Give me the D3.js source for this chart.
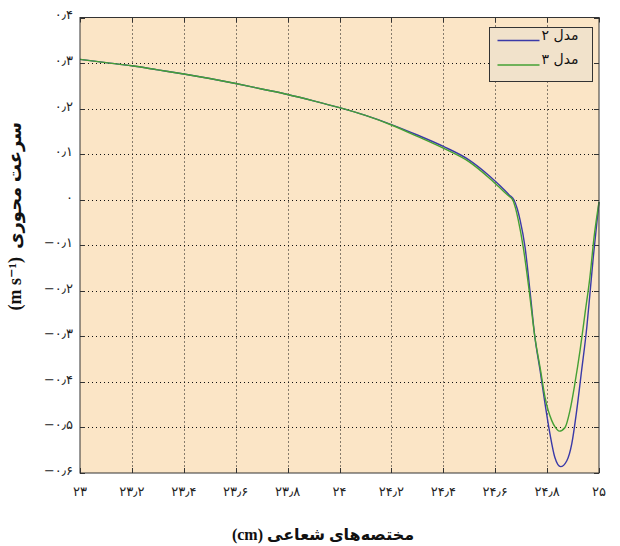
<!DOCTYPE html>
<html>
<head>
<meta charset="utf-8">
<script src="https://cdn.jsdelivr.net/npm/d3@7/dist/d3.min.js"></script>
<style>
	body { margin: 0; background: #fff; }
	svg { display: block; }
	.frame { fill: none; stroke: #333; stroke-width: 1; }
	.grid line { stroke: #111; stroke-width: 1; stroke-dasharray: 1,3; }
	.tick { stroke: #333; stroke-width: 1; }
	.ticklabel { font-family: "DejaVu Sans", sans-serif; font-size: 13px; fill: #222; }
	.title { font-family: "Liberation Serif", "DejaVu Sans", serif; font-weight: bold; font-size: 16px; fill: #111; }
	.ytitle { font-family: "Liberation Serif", "DejaVu Sans", serif; font-weight: bold; font-size: 18px; fill: #111; }
	.legendText { font-family: "DejaVu Sans", sans-serif; font-size: 14px; fill: #111; }
</style>
</head>
<body>
<svg id="chart" width="620" height="546"></svg>
<script>

// x ticks (radial position, cm) and y ticks (axial velocity)
var xTicks = [23, 23.2, 23.4, 23.6, 23.8, 24, 24.2, 24.4, 24.6, 24.8, 25];
var yTicks = [0.4, 0.3, 0.2, 0.1, 0, -0.1, -0.2, -0.3, -0.4, -0.5, -0.6];

// model 2 (blue)
var model2X = [23.0, 23.1, 23.2, 23.3, 23.4, 23.5, 23.6, 23.7, 23.8, 23.9, 24.0, 24.1, 24.2, 24.3, 24.4, 24.5, 24.58, 24.62, 24.655, 24.672, 24.685, 24.696, 24.715, 24.734, 24.753, 24.773, 24.792, 24.811, 24.83, 24.852, 24.876, 24.895, 24.914, 24.933, 24.953, 24.965, 24.978, 25.0];
var model2V = [0.308, 0.301, 0.294, 0.285, 0.276, 0.266, 0.255, 0.243, 0.231, 0.217, 0.202, 0.185, 0.165, 0.142, 0.117, 0.087, 0.051, 0.030, 0.010, 0.0, -0.02, -0.045, -0.104, -0.2, -0.302, -0.375, -0.448, -0.514, -0.566, -0.586, -0.573, -0.536, -0.463, -0.375, -0.28, -0.207, -0.126, -0.005];

// model 3 (green)
var model3X = [23.0, 23.1, 23.2, 23.3, 23.4, 23.5, 23.6, 23.7, 23.8, 23.9, 24.0, 24.1, 24.2, 24.3, 24.4, 24.5, 24.58, 24.62, 24.65, 24.667, 24.678, 24.689, 24.708, 24.731, 24.753, 24.775, 24.792, 24.818, 24.832, 24.847, 24.869, 24.888, 24.907, 24.927, 24.946, 24.965, 24.981, 25.0];
var model3V = [0.308, 0.301, 0.294, 0.285, 0.276, 0.266, 0.255, 0.243, 0.231, 0.217, 0.202, 0.185, 0.164, 0.139, 0.113, 0.083, 0.046, 0.025, 0.009, 0.0, -0.018, -0.045, -0.104, -0.2, -0.302, -0.375, -0.434, -0.485, -0.5, -0.508, -0.5, -0.463, -0.404, -0.331, -0.25, -0.17, -0.082, -0.005];

var seriesNames = ["مدل ۲", "مدل ۳"];
var seriesColors = ["#3a3aa8", "#45a034"];

var xTitle = "مختصه‌های شعاعی (cm)";
var yTitleFa = "سرعت محوری";
var yTitleUnit = "(m s⁻¹)";

var mLeft = 80, mRight = 599, mTop = 17.5, mBottom = 473;

var x = d3.scaleLinear().domain([23, 25]).range([mLeft, mRight]);
var y = d3.scaleLinear().domain([-0.6, 0.4]).range([mBottom, mTop]);

// persian digits with arabic decimal separator
function fa(v) {
	var s = d3.format("")(+v.toFixed(2));
	var digits = "۰۱۲۳۴۵۶۷۸۹";
	return s.replace(/\d/g, function (c) { return digits[+c]; })
		.replace(".", "٫")
		.replace("-", "−");
}

var svg = d3.select("#chart");

svg.append("rect")
	.attr("x", mLeft)
	.attr("y", mTop)
	.attr("width", mRight - mLeft)
	.attr("height", mBottom - mTop)
	.attr("fill", "#fbe5c6");

var grid = svg.append("g").attr("class", "grid");

grid.selectAll("line.v")
	.data(xTicks.slice(1, -1))
	.enter()
	.append("line")
	.attr("class", "v")
	.attr("x1", function (d) { return Math.round(x(d)) + 0.5; })
	.attr("x2", function (d) { return Math.round(x(d)) + 0.5; })
	.attr("y1", mTop)
	.attr("y2", mBottom);

grid.selectAll("line.h")
	.data(yTicks.slice(1, -1))
	.enter()
	.append("line")
	.attr("class", "h")
	.attr("y1", function (d) { return Math.round(y(d)) + 0.5; })
	.attr("y2", function (d) { return Math.round(y(d)) + 0.5; })
	.attr("x1", mLeft)
	.attr("x2", mRight);

// inward ticks on all four sides
var tickG = svg.append("g");
var tickLen = 5;

xTicks.forEach(function (d) {
	var px = Math.round(x(d)) + 0.5;
	tickG.append("line").attr("class", "tick").attr("x1", px).attr("x2", px).attr("y1", mBottom).attr("y2", mBottom - tickLen);
	tickG.append("line").attr("class", "tick").attr("x1", px).attr("x2", px).attr("y1", mTop).attr("y2", mTop + tickLen);
});

yTicks.forEach(function (d) {
	var py = Math.round(y(d)) + 0.5;
	tickG.append("line").attr("class", "tick").attr("y1", py).attr("y2", py).attr("x1", mLeft).attr("x2", mLeft + tickLen);
	tickG.append("line").attr("class", "tick").attr("y1", py).attr("y2", py).attr("x1", mRight).attr("x2", mRight - tickLen);
});

var line = d3.line()
	.x(function (d) { return x(d[0]); })
	.y(function (d) { return y(d[1]); })
	.curve(d3.curveMonotoneX);

var series = [d3.zip(model2X, model2V), d3.zip(model3X, model3V)];

svg.selectAll("path.series")
	.data(series)
	.enter()
	.append("path")
	.attr("class", "series")
	.attr("d", line)
	.attr("fill", "none")
	.attr("stroke", function (d, i) { return seriesColors[i]; })
	.attr("stroke-width", 1.4);

svg.append("rect")
	.attr("class", "frame")
	.attr("x", mLeft)
	.attr("y", mTop)
	.attr("width", mRight - mLeft)
	.attr("height", mBottom - mTop);

// tick labels
svg.selectAll("text.xl")
	.data(xTicks)
	.enter()
	.append("text")
	.attr("class", "ticklabel")
	.attr("x", function (d) { return x(d); })
	.attr("y", 496)
	.attr("text-anchor", "middle")
	.text(fa);

svg.selectAll("text.yl")
	.data(yTicks)
	.enter()
	.append("text")
	.attr("class", "ticklabel")
	.attr("x", 73)
	.attr("y", function (d) { return y(d); })
	.attr("dy", "0.15em")
	.attr("text-anchor", "end")
	.attr("direction", "ltr")
	.text(fa);

// axis titles
svg.append("text")
	.attr("class", "title")
	.attr("x", 323)
	.attr("y", 540)
	.attr("text-anchor", "middle")
	.attr("direction", "rtl")
	.text(xTitle);

var yTitleG = svg.append("g")
	.attr("transform", "translate(" + 21 + "," + 225 + ") rotate(-90)");

yTitleG.append("text")
	.attr("class", "ytitle")
	.attr("x", -24)
	.attr("text-anchor", "start")
	.text(yTitleFa);

yTitleG.append("text")
	.attr("class", "ytitle")
	.attr("x", -32)
	.attr("text-anchor", "end")
	.text(yTitleUnit);

// legend
var legendG = svg.append("g")
	.attr("transform", "translate(" + 489.5 + "," + 27.5 + ")");

legendG.append("rect")
	.attr("width", 103)
	.attr("height", 54)
	.attr("fill", "#f1e2cb")
	.attr("stroke", "#333")
	.attr("stroke-width", 1);

var itemG = legendG.selectAll("g.item")
	.data(seriesNames)
	.enter()
	.append("g")
	.attr("class", "item")
	.attr("transform", function (d, i) { return "translate(0," + (13 + i * 24.5) + ")"; });

itemG.append("line")
	.attr("x1", 8)
	.attr("x2", 50)
	.attr("y1", 0)
	.attr("y2", 0)
	.attr("stroke", function (d, i) { return seriesColors[i]; })
	.attr("stroke-width", 1.6);

itemG.append("text")
	.attr("class", "legendText")
	.attr("x", 89)
	.attr("y", -1)
	.attr("text-anchor", "end")
	.attr("direction", "ltr")
	.text(function (d) { return d; });

</script>
</body>
</html>
